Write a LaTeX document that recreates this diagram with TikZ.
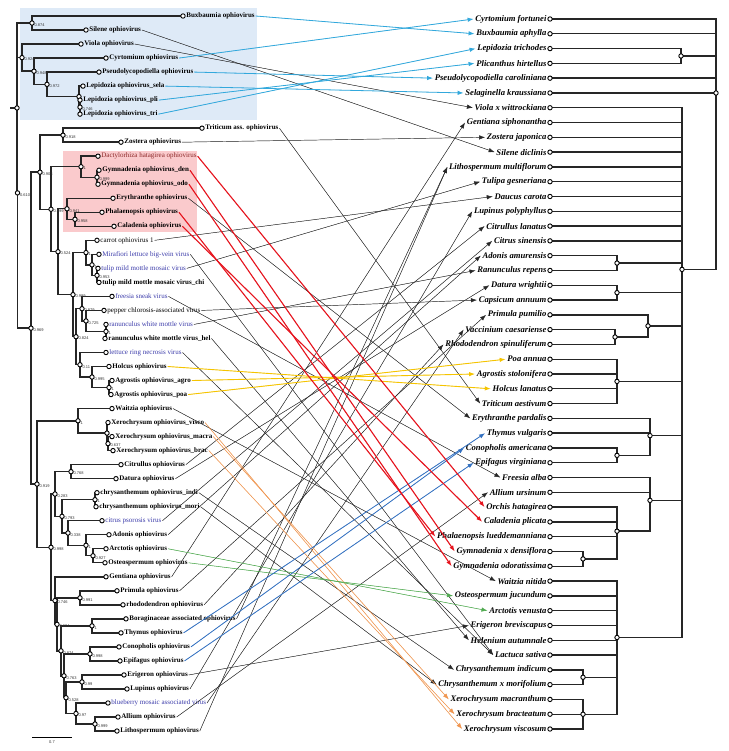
\documentclass[tikz,border=0pt]{standalone}
\usepackage{fontspec}
\setmainfont{Liberation Serif}
\newfontfamily\supf{Liberation Sans}
\usetikzlibrary{arrows.meta,calc}
\definecolor{bluebox}{RGB}{222,234,247}
\definecolor{redbox}{RGB}{250,202,204}
\definecolor{cblue}{RGB}{50,168,220}
\definecolor{csteel}{RGB}{50,112,192}
\definecolor{cred}{RGB}{230,20,30}
\definecolor{cyel}{RGB}{245,196,0}
\definecolor{corange}{RGB}{240,150,80}
\definecolor{cgreen}{RGB}{80,170,80}
\definecolor{cblk}{RGB}{40,40,40}
\definecolor{btxt}{RGB}{60,60,170}
\definecolor{dtxt}{RGB}{140,40,40}
\begin{document}
\begin{tikzpicture}[x=1pt,y=-1pt,
  tree/.style={line width=1.4pt,black!85,line cap=rect},
  nd/.style={circle,draw=black,fill=white,line width=0.9pt,inner sep=0pt,minimum size=4.4pt},
  lt/.style={anchor=west,inner sep=0.8pt,font=\fontsize{7}{8}\selectfont},
  sb/.style={font=\fontsize{7}{8}\selectfont\bfseries},
  sn/.style={},
  su/.style={text=btxt},
  sd/.style={text=dtxt},
  rt/.style={anchor=east,inner sep=0.8pt,font=\fontsize{8.6}{9}\selectfont\bfseries\itshape},
  sup/.style={anchor=west,inner sep=0pt,font=\supf\fontsize{4}{4.5}\selectfont,text=black!80},
  lk/.style={-{Latex[length=6pt,width=4.4pt]}},
  cb/.style={draw=cblue,fill=cblue,line width=0.8pt},
  cs/.style={draw=csteel,fill=csteel,line width=0.8pt},
  cr/.style={draw=cred,fill=cred,line width=1.1pt},
  cy/.style={draw=cyel,fill=cyel,line width=0.9pt},
  co/.style={draw=corange,fill=corange,line width=0.55pt},
  cg/.style={draw=cgreen,fill=cgreen,line width=0.55pt},
  ck/.style={draw=cblk,fill=cblk,line width=0.45pt}
]
\useasboundingbox (0,0) rectangle (728,751);
\fill[white] (0,0) rectangle (728,751);
% highlight boxes
\fill[bluebox] (20,8) rectangle (257,120);
\fill[redbox] (63,151) rectangle (197,232);

% ---------- left tips ----------
\foreach \i/\x/\s/\t in {
1/183/sb/Buxbaumia ophiovirus,
2/86/sb/Silene ophiovirus,
3/81/sb/Viola ophiovirus,
4/106/sb/Cyrtomium ophiovirus,
5/99/sb/Pseudolycopodiella ophiovirus,
6/83/sb/Lepidozia ophiovirus\_sela,
7/80/sb/Lepidozia ophiovirus\_pli,
8/80/sb/Lepidozia ophiovirus\_tri,
9/202/sb/Triticum ass. ophiovirus,
10/121/sb/Zostera ophiovirus,
11/98/sd/Dactylorhiza hatagirea ophiovirus,
12/99/sb/Gymnadenia ophiovirus\_den,
13/98/sb/Gymnadenia ophiovirus\_odo,
14/113/sb/Erythranthe ophiovirus,
15/102/sb/Phalaenopsis ophiovirus,
16/114/sb/Caladenia ophiovirus,
17/97/sn/carrot ophiovirus 1,
18/99/su/Mirafiori lettuce big-vein virus,
19/98/su/tulip mild mottle mosaic virus,
20/99/sb/tulip mild mottle mosaic virus\_chi,
21/112/su/freesia sneak virus,
22/104/sn/pepper chlorosis-associated virus,
23/106/su/ranunculus white mottle virus,
24/105/sb/ranunculus white mottle virus\_hel,
25/106/su/lettuce ring necrosis virus,
26/109/sb/Holcus ophiovirus,
27/112/sb/Agrostis ophiovirus\_agro,
28/111/sb/Agrostis ophiovirus\_poa,
29/112/sb/Waitzia ophiovirus,
30/108/sb/Xerochrysum ophiovirus\_visco,
31/112/sb/Xerochrysum ophiovirus\_macra,
32/113/sb/Xerochrysum ophiovirus\_brac,
33/121/sb/Citrullus ophiovirus,
34/116/sb/Datura ophiovirus,
35/97/sb/chrysanthemum ophiovirus\_indi,
36/96/sb/chrysanthemum ophiovirus\_mori,
37/102/su/citrus psorosis virus,
38/109/sb/Adonis ophiovirus,
39/106/sb/Arctotis ophiovirus,
40/105/sb/Osteospermum ophiovirus,
41/106/sb/Gentiana ophiovirus,
42/117/sb/Primula ophiovirus,
43/123/sb/rhododendron ophiovirus,
44/126/sb/Boraginaceae associated ophiovirus,
45/121/sb/Thymus ophiovirus,
46/119/sb/Conopholis ophiovirus,
47/120/sb/Epifagus ophiovirus,
48/124/sb/Erigeron ophiovirus,
49/127/sb/Lupinus ophiovirus,
50/108/su/blueberry mosaic associated virus,
51/118/sb/Allium ophiovirus,
52/117/sb/Lithospermum ophiovirus}
{
  \coordinate (L\i) at (\x,{16+14.02*(\i-1)});
  \node[lt,\s] (LL\i) at ([xshift=2.4pt]L\i) {\t};
}

% ---------- left internal nodes ----------
\coordinate (R) at (17,107.95);
\coordinate (N0874) at (32,23.01);
\coordinate (NA) at (17.5,192.88);
\coordinate (N0924) at (22,57.62);
\coordinate (Nc) at (34,71.2);
\coordinate (N0972) at (47,84.35);
\coordinate (NLep) at (79,96.62);
\coordinate (N0746a) at (80,107.13);
\coordinate (NB) at (31,328.13);
\coordinate (N0903) at (40,172.2);
\coordinate (N0918) at (63,135.17);
\coordinate (NC) at (51,209.22);
\coordinate (N1) at (81,166.72);
\coordinate (N0999) at (97,177.23);
\coordinate (N0524) at (58,251.72);
\coordinate (N0941) at (67,208.78);
\coordinate (N0958) at (75,219.29);
\coordinate (N0996) at (73,294.65);
\coordinate (Ncar) at (86,252.59);
\coordinate (Nmira) at (92,264.86);
\coordinate (Ntul) at (97,275.37);
\coordinate (N0824) at (76,336.71);
\coordinate (Nfr) at (82,308.67);
\coordinate (N0725) at (86,320.94);
\coordinate (Nran) at (106,331.45);
\coordinate (N011) at (80,364.75);
\coordinate (N0995) at (92,377.02);
\coordinate (Nagro) at (109,387.53);
\coordinate (N0919) at (37,484.06);
\coordinate (Nwait) at (78,420.83);
\coordinate (Nxero) at (107,433.1);
\coordinate (N0637) at (108,443.61);
\coordinate (N0998) at (51,547.29);
\coordinate (N0283) at (55,494.0);
\coordinate (N0768) at (71,471.65);
\coordinate (N0793) at (62,516.34);
\coordinate (Nchr) at (95,499.69);
\coordinate (N0338) at (68,532.99);
\coordinate (Nad) at (86,545.26);
\coordinate (N0927) at (93,555.77);
\coordinate (N0746) at (55,600.57);
\coordinate (N0604) at (57,624.34);
\coordinate (Nprim) at (80,597.83);
\coordinate (N0874b) at (61,650.85);
\coordinate (Nbor) at (92,625.87);
\coordinate (N0763) at (64,675.82);
\coordinate (Ncon) at (90,653.91);
\coordinate (N0528) at (66,697.72);
\coordinate (Neri) at (82,681.95);
\coordinate (N097) at (76,713.5);
\coordinate (Nall) at (95,724.01);

\coordinate (Rstub) at (11,107.95);
\draw[tree] (Rstub) -- (R);
\foreach \p/\c in {R/N0874,R/NA,N0874/L1,N0874/L2,NA/N0924,NA/NB,N0924/L3,N0924/Nc,
 Nc/L4,Nc/N0972,N0972/L5,N0972/NLep,NLep/L6,NLep/N0746a,N0746a/L7,N0746a/L8,
 NB/N0903,NB/N0919,N0903/N0918,N0903/NC,N0918/L9,N0918/L10,NC/N1,NC/N0524,
 N1/L11,N1/N0999,N0999/L12,N0999/L13,N0524/N0941,N0524/N0996,N0941/L14,N0941/N0958,
 N0958/L15,N0958/L16,N0996/Ncar,N0996/N0824,Ncar/L17,Ncar/Nmira,Nmira/L18,Nmira/Ntul,
 Ntul/L19,Ntul/L20,N0824/Nfr,N0824/N011,Nfr/L21,Nfr/N0725,N0725/L22,N0725/Nran,
 Nran/L23,Nran/L24,N011/L25,N011/N0995,N0995/L26,N0995/Nagro,Nagro/L27,Nagro/L28,
 N0919/Nwait,N0919/N0998,Nwait/L29,Nwait/Nxero,Nxero/L30,Nxero/N0637,N0637/L31,N0637/L32,
 N0998/N0283,N0998/N0746,N0283/N0768,N0283/N0793,N0768/L33,N0768/L34,N0793/Nchr,N0793/N0338,
 Nchr/L35,Nchr/L36,N0338/L37,N0338/Nad,Nad/L38,Nad/N0927,N0927/L39,N0927/L40,
 N0746/L41,N0746/N0604,N0604/Nprim,N0604/N0874b,Nprim/L42,Nprim/L43,N0874b/Nbor,N0874b/N0763,
 Nbor/L44,Nbor/L45,N0763/Ncon,N0763/N0528,Ncon/L46,Ncon/L47,N0528/Neri,N0528/N097,
 Neri/L48,Neri/L49,N097/L50,N097/Nall,Nall/L51,Nall/L52}
 \draw[tree] (\p) |- (\c);

\foreach \n in {R,N0874,NA,N0924,Nc,N0972,NLep,N0746a,NB,N0903,N0918,NC,N1,N0999,N0524,N0941,
 N0958,N0996,Ncar,Nmira,Ntul,N0824,Nfr,N0725,Nran,N011,N0995,Nagro,N0919,Nwait,Nxero,N0637,
 N0998,N0283,N0768,N0793,Nchr,N0338,Nad,N0927,N0746,N0604,Nprim,N0874b,Nbor,N0763,Ncon,
 N0528,Neri,N097,Nall}
 \node[nd] at (\n) {};
\foreach \i in {1,...,52} \node[nd] at (L\i) {};

\foreach \n/\v in {N0874/0.874,NA/0.610,N0924/0.924,Nc/0.948,N0972/0.972,N0746a/0.746,
 NB/0.969,N0903/0.903,N0918/0.918,NC/0.999,N1/1,N0999/0.999,N0524/0.524,N0941/0.941,
 N0958/0.958,N0996/0.999,Ncar/1,Nmira/1,Ntul/0.953,N0824/0.824,Nfr/0.879,N0725/0.725,
 Nran/1,N011/0.11,N0995/0.995,Nagro/1,N0919/0.919,Nwait/1,N0637/0.637,N0998/0.998,
 N0283/0.283,N0768/0.768,N0793/0.793,Nchr/1,N0338/0.338,Nad/1,N0927/0.927,N0746/0.746,
 N0604/0.604,Nprim/0.991,N0874b/0.874,Nbor/1,N0763/0.763,Ncon/0.998,N0528/0.528,
 Neri/0.99,N097/0.97,Nall/0.999}
 \node[sup] at ([xshift=2.3pt,yshift=-1.9pt]\n) {\v};

% scale bar
\coordinate (SB1) at (32,737);
\coordinate (SB2) at (72,737);
\draw[line width=0.9pt] (SB1) -- (SB2);
\node[sup,anchor=north] (SBL) at ([yshift=-3.5pt]$(SB1)!0.5!(SB2)$) {0.7};

% ---------- right tips ----------
\foreach \i/\t in {
1/Cyrtomium fortunei,
2/Buxbaumia aphylla,
3/Lepidozia trichodes,
4/Plicanthus hirtellus,
5/Pseudolycopodiella caroliniana,
6/Selaginella kraussiana,
7/Viola x wittrockiana,
8/Gentiana siphonantha,
9/Zostera japonica,
10/Silene diclinis,
11/Lithospermum multiflorum,
12/Tulipa gesneriana,
13/Daucus carota,
14/Lupinus polyphyllus,
15/Citrullus lanatus,
16/Citrus sinensis,
17/Adonis amurensis,
18/Ranunculus repens,
19/Datura wrightii,
20/Capsicum annuum,
21/Primula pumilio,
22/Vaccinium caesariense,
23/Rhododendron spinuliferum,
24/Poa annua,
25/Agrostis stolonifera,
26/Holcus lanatus,
27/Triticum aestivum,
28/Erythranthe pardalis,
29/Thymus vulgaris,
30/Conopholis americana,
31/Epifagus virginiana,
32/Freesia alba,
33/Allium ursinum,
34/Orchis hatagirea,
35/Caladenia plicata,
36/Phalaenopsis lueddemanniana,
37/Gymnadenia x densiflora,
38/Gymnadenia odoratissima,
39/Waitzia nitida,
40/Osteospermum jucundum,
41/Arctotis venusta,
42/Erigeron breviscapus,
43/Helenium autumnale,
44/Lactuca sativa,
45/Chrysanthemum indicum,
46/Chrysanthemum x morifolium,
47/Xerochrysum macranthum,
48/Xerochrysum bracteatum,
49/Xerochrysum viscosum}
{
  \coordinate (H\i) at (550,{19+14.7917*(\i-1)});
  \node[rt] (HH\i) at ([xshift=-2.6pt]H\i) {\t};
}

% ---------- right internal nodes ----------
\coordinate (RR) at (716,93);
\coordinate (RLep) at (681,55.98);
\coordinate (RBig) at (682,269.4);
\coordinate (RAd) at (617,263.06);
\coordinate (RDat) at (617,292.65);
\coordinate (RPrim) at (648,325.9);
\coordinate (RVac) at (615,337.0);
\coordinate (RGrass) at (617,381.4);
\coordinate (RLam) at (650,435.64);
\coordinate (RCon) at (617,455.36);
\coordinate (RMono) at (650,500.35);
\coordinate (ROrch) at (617,531.17);
\coordinate (RGym) at (583,558.9);
\coordinate (RAst) at (617,637.48);
\coordinate (RChr) at (583,677.23);
\coordinate (RXer) at (583,714.21);

\foreach \p/\c in {RR/H1,RR/H2,RR/RLep,RR/H5,RR/H6,RR/RBig,RLep/H3,RLep/H4,
 RBig/H7,RBig/H8,RBig/H9,RBig/H10,RBig/H11,RBig/H12,RBig/H13,RBig/H14,RBig/H15,RBig/H16,
 RBig/RAd,RBig/RDat,RBig/RPrim,RBig/RGrass,RBig/RLam,RBig/RMono,RBig/RAst,
 RAd/H17,RAd/H18,RDat/H19,RDat/H20,RPrim/H21,RPrim/RVac,RVac/H22,RVac/H23,
 RGrass/H24,RGrass/H25,RGrass/H26,RGrass/H27,RLam/H28,RLam/H29,RLam/RCon,RCon/H30,RCon/H31,
 RMono/H32,RMono/H33,RMono/ROrch,ROrch/H34,ROrch/H35,ROrch/H36,ROrch/RGym,RGym/H37,RGym/H38,
 RAst/H39,RAst/H40,RAst/H41,RAst/H42,RAst/H43,RAst/H44,RAst/RChr,RAst/RXer,
 RChr/H45,RChr/H46,RXer/H47,RXer/H48,RXer/H49}
 \draw[tree] (\p) |- (\c);
\foreach \n in {RR,RLep,RBig,RAd,RDat,RPrim,RVac,RGrass,RLam,RCon,RMono,ROrch,RGym,RAst,RChr,RXer}
 \node[nd] at (\n) {};
\foreach \i in {1,...,49} \node[nd] at (H\i) {};

% ---------- connectors ----------
\foreach \a/\b/\c in {2/10/ck,3/7/ck,9/27/ck,10/9/ck,14/28/ck,17/13/ck,18/44/ck,19/12/ck,
 21/32/ck,22/20/ck,23/18/ck,24/43/ck,25/44/ck,29/39/ck,33/15/ck,34/19/ck,35/45/ck,36/46/ck,
 37/16/ck,38/17/ck,41/8/ck,42/21/ck,43/23/ck,44/11/ck,48/42/ck,49/14/ck,50/22/ck,51/33/ck,
 52/11/ck,
 30/49/co,31/47/co,32/48/co,39/41/cg,40/40/cg,
 26/26/cy,27/25/cy,28/24/cy,
 45/29/cs,46/30/cs,47/31/cs,
 11/34/cr,12/37/cr,13/38/cr,15/36/cr,16/35/cr,
 1/2/cb,4/1/cb,5/5/cb,6/6/cb,7/4/cb,8/3/cb}
 \draw[lk,\c] (LL\a.east) -- ([xshift=-0.8pt]HH\b.west);
\end{tikzpicture}
\end{document}
